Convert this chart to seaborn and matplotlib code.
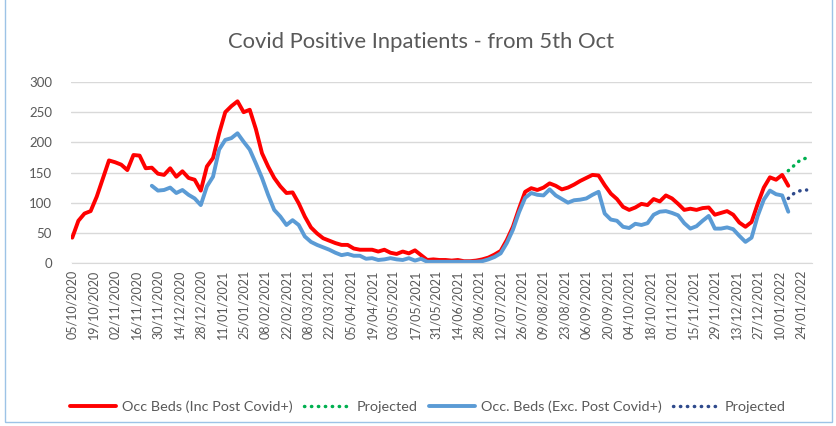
import pandas as pd
import matplotlib
matplotlib.use('Agg')
import matplotlib.pyplot as plt
import matplotlib.dates as mdates
import seaborn as sns

# values read every 4 days from the chart
start_inc = '2020-10-05'
occ_inc = [42, 70, 82, 86, 110, 140, 170, 167, 163, 154, 179, 178, 157, 158, 148,
           146, 157, 143, 152, 141, 138, 120, 160, 174, 215, 250, 260, 268, 250, 254,
           222, 182, 160, 141, 127, 116, 117, 99, 77, 59, 49, 41, 37, 33, 30,
           30, 24, 22, 22, 22, 19, 22, 17, 15, 19, 16, 21, 13, 5, 6,
           5, 5, 4, 5, 3, 3, 4, 6, 9, 14, 20, 38, 60, 90, 118,
           124, 121, 125, 132, 128, 122, 125, 130, 136, 141, 146, 145, 129, 115, 106,
           93, 88, 92, 98, 96, 106, 102, 112, 107, 98, 88, 90, 88, 91, 92,
           80, 83, 86, 80, 67, 60, 68, 98, 125, 142, 138, 146, 128]

start_exc = '2020-11-26'
occ_exc = [128, 120, 121, 125, 116, 121, 113, 107, 96, 127, 143, 188, 204, 207, 215,
           201, 188, 165, 141, 113, 88, 77, 63, 71, 63, 44, 35, 30, 26, 22,
           17, 13, 15, 12, 12, 7, 8, 5, 6, 8, 6, 5, 8, 4, 7,
           2, 2, 2, 2, 2, 2, 2, 2, 2, 3, 6, 10, 16, 33, 55,
           84, 108, 116, 113, 112, 122, 112, 106, 100, 104, 105, 107, 113, 118, 82,
           72, 70, 60, 58, 65, 63, 66, 80, 85, 86, 83, 79, 66, 57, 61,
           70, 78, 57, 57, 59, 56, 45, 35, 42, 78, 105, 120, 114, 112, 85]

start_proj = '2022-01-16'
proj_inc = [153, 162, 171, 174]
proj_exc = [107, 116, 120, 121]

tick_start = '2020-10-05'
n_ticks = 35


def frame(start, values):
    return pd.DataFrame({'date': pd.date_range(start, periods=len(values), freq='4D'),
                         'beds': values})


sns.set_style('white')
plt.rcParams['font.family'] = ['Lato', 'DejaVu Sans']
grey = '#595959'

fig = plt.figure(figsize=(8.37, 4.26), dpi=100)
ax = fig.add_axes([71.5 / 837, 1 - 263 / 426, (812 - 71.5) / 837, (263 - 82) / 426])

sns.lineplot(data=frame(start_inc, occ_inc), x='date', y='beds', ax=ax,
             color='#FF0000', lw=2.8, label='Occ Beds (Inc Post Covid+)')
sns.lineplot(data=frame(start_proj, proj_inc), x='date', y='beds', ax=ax,
             color='#00B050', lw=2.5, linestyle=(0, (0.1, 1.9)),
             dash_capstyle='round', label='Projected')
sns.lineplot(data=frame(start_exc, occ_exc), x='date', y='beds', ax=ax,
             color='#5B9BD5', lw=2.8, label='Occ. Beds (Exc. Post Covid+)')
sns.lineplot(data=frame(start_proj, proj_exc), x='date', y='beds', ax=ax,
             color='#2F4A8C', lw=2.5, linestyle=(0, (0.1, 1.9)),
             dash_capstyle='round', label='Projected')

t0 = pd.Timestamp(tick_start)
ax.set_xlim(t0 - pd.Timedelta(hours=12), t0 + pd.Timedelta(days=483.5))
ax.set_ylim(0, 300)
ax.set_yticks(range(0, 301, 50))
ax.set_xticks(pd.date_range(tick_start, periods=n_ticks, freq='14D'))
ax.xaxis.set_major_formatter(mdates.DateFormatter('%d/%m/%Y'))
ax.tick_params(axis='x', rotation=90, labelsize=9, colors=grey, length=0, pad=5)
ax.tick_params(axis='y', labelsize=9.5, colors=grey, length=0, pad=14)
ax.grid(axis='y', color='#D9D9D9', lw=1)
ax.set_axisbelow(True)
for s in ['left', 'right', 'top']:
    ax.spines[s].set_visible(False)
ax.spines['bottom'].set_color('#D9D9D9')
ax.set_xlabel('')
ax.set_ylabel('')

fig.text(421 / 837, 1 - 42 / 426, 'Covid Positive Inpatients - from 5th Oct',
         fontsize=15.8, color=grey, ha='center', va='center')

ax.legend(loc='center', bbox_to_anchor=(428 / 837, 1 - 407 / 426), bbox_transform=fig.transFigure,
          ncol=4, frameon=False, fontsize=10.4, handlelength=3.2, handletextpad=0.4,
          columnspacing=0.8, labelcolor=grey)

# light blue chart border
border = plt.Rectangle((5 / 837, 4 / 426), 827 / 837, 1.2, transform=fig.transFigure,
                       fill=False, edgecolor='#9DC3E6', lw=1)
fig.patches.append(border)

fig.savefig('out.png', dpi=100)
